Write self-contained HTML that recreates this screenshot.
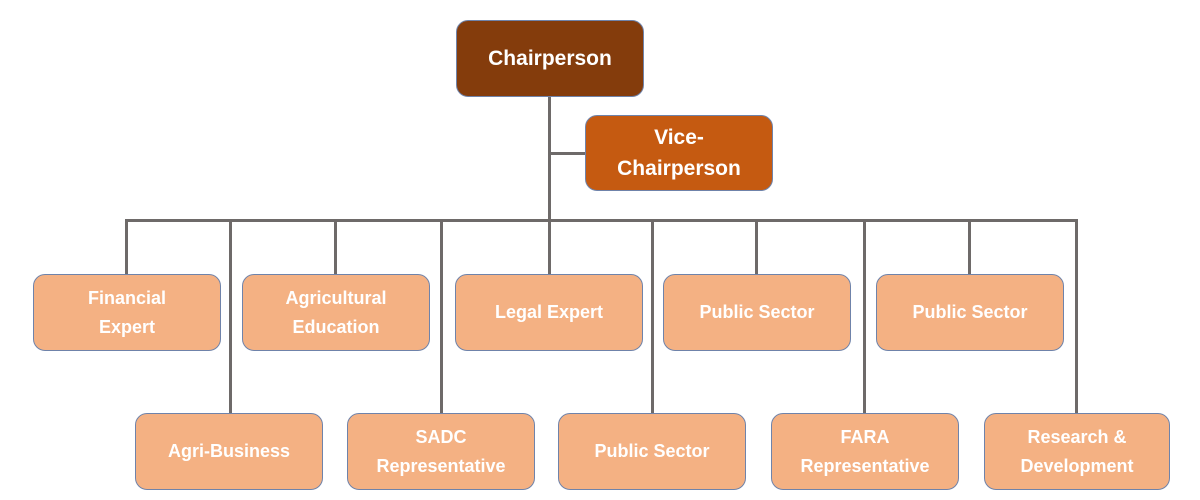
<!DOCTYPE html>
<html><head><style>
body{margin:0;width:1200px;height:500px;background:#fff;position:relative;overflow:hidden;font-family:"Liberation Sans",sans-serif}
.b{position:absolute;box-sizing:border-box;border:1.5px solid #6f83aa;border-radius:12px;background:#F4B183;color:#fff;display:flex;align-items:center;justify-content:center;text-align:center;font-size:18px;font-weight:bold;line-height:29px;width:188px;height:77px}
.l{position:absolute;background:#6e6a69}
</style></head><body>
<div class="l" style="left:548px;top:96px;width:3px;height:126px"></div>
<div class="l" style="left:549px;top:152px;width:37px;height:3px"></div>
<div class="l" style="left:125px;top:219px;width:953px;height:3px"></div>
<div class="l" style="left:125px;top:219px;width:3px;height:56px"></div>
<div class="l" style="left:334px;top:219px;width:3px;height:56px"></div>
<div class="l" style="left:548px;top:219px;width:3px;height:56px"></div>
<div class="l" style="left:755px;top:219px;width:3px;height:56px"></div>
<div class="l" style="left:968px;top:219px;width:3px;height:56px"></div>
<div class="l" style="left:229px;top:219px;width:3px;height:195px"></div>
<div class="l" style="left:440px;top:219px;width:3px;height:195px"></div>
<div class="l" style="left:651px;top:219px;width:3px;height:195px"></div>
<div class="l" style="left:863px;top:219px;width:3px;height:195px"></div>
<div class="l" style="left:1075px;top:219px;width:3px;height:195px"></div>
<div class="b" style="left:456px;top:20px;background:#843C0C;font-size:21px">Chairperson</div>
<div class="b" style="left:585px;top:115px;height:76px;background:#C55A11;font-size:21px;line-height:31px">Vice-<br>Chairperson</div>
<div class="b" style="left:33px;top:274px">Financial<br>Expert</div>
<div class="b" style="left:242px;top:274px">Agricultural<br>Education</div>
<div class="b" style="left:455px;top:274px">Legal Expert</div>
<div class="b" style="left:663px;top:274px">Public Sector</div>
<div class="b" style="left:876px;top:274px">Public Sector</div>
<div class="b" style="left:135px;top:413px">Agri-Business</div>
<div class="b" style="left:347px;top:413px">SADC<br>Representative</div>
<div class="b" style="left:558px;top:413px">Public Sector</div>
<div class="b" style="left:771px;top:413px">FARA<br>Representative</div>
<div class="b" style="left:984px;top:413px;width:186px">Research &amp;<br>Development</div>
</body></html>
